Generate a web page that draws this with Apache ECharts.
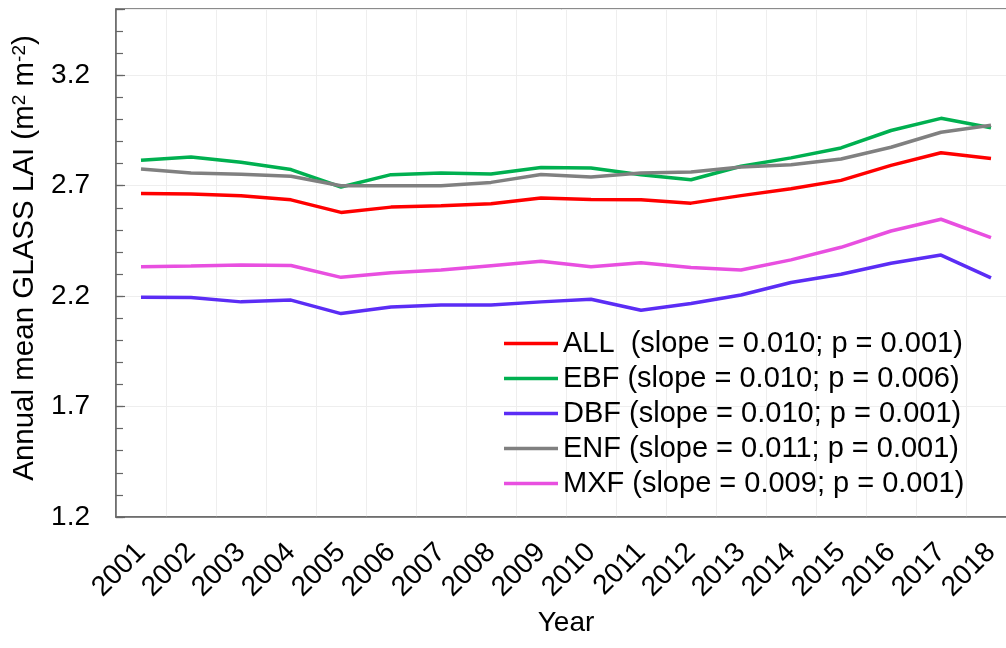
<!DOCTYPE html>
<html>
<head>
<meta charset="utf-8">
<script src="https://cdn.jsdelivr.net/npm/echarts@6/dist/echarts.min.js"></script>
<style>
html,body{margin:0;padding:0;background:#fff;}
#chart{width:1006px;height:648px;}
</style>
</head>
<body>
<div id="chart"></div>
<script>
const years = ['2001','2002','2003','2004','2005','2006','2007','2008','2009','2010','2011','2012','2013','2014','2015','2016','2017','2018'];
const ALL = [2.665, 2.662, 2.655, 2.636, 2.579, 2.603, 2.609, 2.618, 2.644, 2.638, 2.636, 2.621, 2.655, 2.686, 2.724, 2.792, 2.849, 2.823];
const EBF = [2.815, 2.830, 2.806, 2.773, 2.694, 2.750, 2.758, 2.753, 2.782, 2.780, 2.750, 2.727, 2.788, 2.826, 2.871, 2.950, 3.005, 2.962];
const DBF = [2.195, 2.194, 2.174, 2.182, 2.121, 2.151, 2.160, 2.160, 2.174, 2.186, 2.136, 2.167, 2.205, 2.262, 2.299, 2.349, 2.386, 2.283];
const ENF = [2.776, 2.758, 2.752, 2.743, 2.700, 2.700, 2.700, 2.715, 2.751, 2.739, 2.758, 2.762, 2.785, 2.795, 2.821, 2.874, 2.942, 2.974];
const MXF = [2.333, 2.336, 2.341, 2.339, 2.285, 2.306, 2.318, 2.338, 2.358, 2.333, 2.351, 2.330, 2.318, 2.364, 2.421, 2.495, 2.548, 2.465];
const seriesNames = [
  'ALL  (slope = 0.010; p = 0.001)',
  'EBF (slope = 0.010; p = 0.006)',
  'DBF (slope = 0.010; p = 0.001)',
  'ENF (slope = 0.011; p = 0.001)',
  'MXF (slope = 0.009; p = 0.001)'
];
const seriesData = [ALL, EBF, DBF, ENF, MXF];
const colors = ['#ff0000', '#00b050', '#5b2df5', '#808080', '#e84fe0'];
const yMin = 1.2, yMax = 3.5, yMajor = 0.5, yMinor = 0.1;

const FONT = '"Liberation Sans", Arial, sans-serif';
const AXIS_COLOR = '#666666';
const GRID_COLOR = '#eeeeee';

const chart = echarts.init(document.getElementById('chart'), null, {renderer: 'canvas'});
chart.setOption({
  animation: false,
  backgroundColor: '#ffffff',
  textStyle: {fontFamily: FONT},
  grid: {left: 116, top: 9, width: 900, height: 508, outerBoundsMode: 'none', containLabel: false,
         show: true, borderColor: AXIS_COLOR, borderWidth: 1.5, backgroundColor: 'transparent'},
  legend: {
    orient: 'vertical', left: 504, top: 329, padding: 0,
    icon: 'rect', itemWidth: 54, itemHeight: 3.5, itemGap: 6,
    textStyle: {fontSize: 29, color: '#000', fontFamily: FONT, lineHeight: 28},
    data: seriesNames
  },
  xAxis: {
    type: 'category', data: years, boundaryGap: true,
    axisLine: {lineStyle: {color: AXIS_COLOR, width: 1.5}},
    axisTick: {inside: true, length: 8, lineStyle: {color: AXIS_COLOR, width: 1.2}},
    splitLine: {show: true, lineStyle: {color: GRID_COLOR, width: 1}},
    axisLabel: {rotate: 45, fontSize: 28, color: '#000', margin: 31, fontFamily: FONT, interval: 0},
    name: 'Year', nameLocation: 'middle', nameGap: 91,
    nameTextStyle: {fontSize: 28, color: '#000', fontFamily: FONT}
  },
  yAxis: [{
    type: 'value', min: yMin, max: yMax, interval: yMinor,
    axisLine: {show: true, lineStyle: {color: AXIS_COLOR, width: 1.5}},
    axisTick: {show: true, inside: true, length: 7, lineStyle: {color: AXIS_COLOR, width: 1.2}},
    splitLine: {show: false},
    axisLabel: {
      fontSize: 28, color: '#000', margin: 26, fontFamily: FONT,
      formatter: function (v) {
        const r = Math.round(v * 10);
        if (r >= Math.round(yMax * 10)) return '';
        return ((r - Math.round(yMin * 10)) % Math.round(yMajor * 10) === 0) ? (r / 10).toFixed(1) : '';
      }
    },
    name: 'Annual mean GLASS LAI (m{sup|2} m{sup|-2})',
    nameLocation: 'middle', nameGap: 76, nameRotate: 90,
    nameTextStyle: {
      fontSize: 29.5, color: '#000', fontFamily: FONT, padding: [0, 0, 0, 10],
      rich: {sup: {fontSize: 19, verticalAlign: 'top', color: '#000', fontFamily: FONT}}
    }
  }, {
    type: 'value', min: yMin, max: yMax, interval: yMajor, position: 'left',
    axisLine: {show: false},
    axisTick: {show: true, inside: true, length: 9, lineStyle: {color: AXIS_COLOR, width: 1.2}},
    axisLabel: {show: false},
    splitLine: {show: true, lineStyle: {color: GRID_COLOR, width: 1}}
  }],
  series: seriesNames.map(function (n, i) {
    return {
      name: n, type: 'line', data: seriesData[i], yAxisIndex: 0,
      symbol: 'none', smooth: false,
      lineStyle: {color: colors[i], width: 3.5},
      itemStyle: {color: colors[i]},
      z: 3 + i
    };
  })
});
</script>
</body>
</html>
